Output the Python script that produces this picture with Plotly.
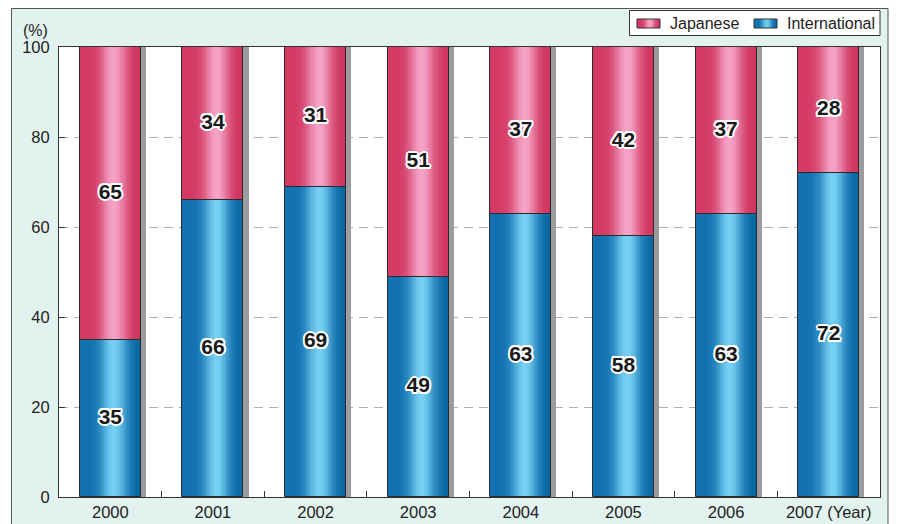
import math
import plotly.graph_objects as go

# ---- data -------------------------------------------------------------
years = ["2000", "2001", "2002", "2003", "2004", "2005", "2006", "2007"]
international = [35, 66, 69, 49, 63, 58, 63, 72]
japanese = [65, 34, 31, 51, 37, 42, 37, 28]
y_ticks = [0, 20, 40, 60, 80, 100]
x_ticktext = ["2000", "2001", "2002", "2003", "2004", "2005", "2006", "2007 (Year)"]

# ---- geometry / styling ---------------------------------------------
W, H = 899, 524
ML, MR, MT, MB = 59, 19, 47, 27
PW, PH = W - ML - MR, H - MT - MB
FONT = "Liberation Sans, Arial, Helvetica, sans-serif"
BAR_W = 0.595
N_STRIPS = 30
SHADOW_W = 0.05


def px(x):
    return (x - ML) / PW


def py(y):
    return (H - MB - y) / PH


def lerp(a, b, t):
    return tuple(a[k] + (b[k] - a[k]) * t for k in range(3))


def shade(t, edge_l, edge_r, light):
    f = math.exp(-((t - 0.56) / 0.21) ** 2)
    c = lerp(lerp(edge_l, edge_r, t), light, f)
    return "rgb(%d,%d,%d)" % tuple(round(v) for v in c)


BLUE = ((18, 114, 178), (6, 100, 162), (118, 208, 244))
PINK = ((212, 58, 100), (206, 50, 92), (245, 162, 198))

fig = go.Figure()

# drop shadow to the right of each column
totals = [a + b for a, b in zip(international, japanese)]
fig.add_trace(go.Bar(
    x=years, y=totals, width=SHADOW_W, offset=BAR_W / 2,
    marker=dict(color="#9c9ca0", line=dict(width=0)),
    showlegend=False, hoverinfo="skip"))

# cylinder-like shading: each column built from thin vertical strips
step = BAR_W / N_STRIPS
for series, base, colors in ((international, [0] * len(years), BLUE),
                             (japanese, international, PINK)):
    for i in range(N_STRIPS):
        off = -BAR_W / 2 + i * step
        wdt = min(step * 1.6, BAR_W / 2 - off)
        t = (i + 0.5) / N_STRIPS
        fig.add_trace(go.Bar(
            x=years, y=series, base=base, width=wdt, offset=off,
            marker=dict(color=shade(t, *colors), line=dict(width=0)),
            showlegend=False, hoverinfo="skip"))

# dark outlines of each segment
for series, base in ((international, [0] * len(years)), (japanese, international)):
    fig.add_trace(go.Bar(
        x=years, y=series, base=base, width=BAR_W, offset=-BAR_W / 2,
        marker=dict(color="rgba(0,0,0,0)", line=dict(color="#2a2a2a", width=1)),
        showlegend=False, hoverinfo="skip"))

# value labels in the middle of each segment
outline = ", ".join("%gpx %gpx 0 #fff" % (dx, dy) for dx, dy in
                    [(-2, 0), (2, 0), (0, -2), (0, 2), (-1.5, -1.5),
                     (1.5, -1.5), (-1.5, 1.5), (1.5, 1.5)])
mid_int = [v / 2 for v in international]
mid_jap = [b + v / 2 for b, v in zip(international, japanese)]
for mids, vals in ((mid_int, international), (mid_jap, japanese)):
    fig.add_trace(go.Scatter(
        x=years, y=mids, mode="text", text=[str(v) for v in vals],
        textposition="middle center",
        textfont=dict(family=FONT, size=21, color="#1a1a1a", weight="bold",
                      shadow=outline),
        showlegend=False, hoverinfo="skip"))

# ---- frame, plot background and legend --------------------------------
shapes = [
    dict(type="rect", xref="paper", yref="paper", layer="below",
         x0=px(11.5), x1=px(888), y0=py(530), y1=py(8.5),
         fillcolor="#e2f2ef", line=dict(color="#555", width=1)),
    dict(type="rect", xref="paper", yref="paper", layer="below",
         x0=0, x1=1, y0=0, y1=1, fillcolor="#ffffff", line=dict(width=0)),
    dict(type="rect", xref="paper", yref="paper", layer="above",
         x0=px(629.5), x1=px(880), y0=py(35.5), y1=py(10.5),
         fillcolor="#ffffff", line=dict(color="#333", width=1)),
]
annotations = []

legend_items = [("Japanese", PINK, 637, 668), ("International", BLUE, 754, 785)]
n_sw = 12
for label, colors, sx, tx in legend_items:
    sw_w = 23
    for i in range(n_sw):
        t = (i + 0.5) / n_sw
        shapes.append(dict(
            type="rect", xref="paper", yref="paper", layer="above",
            x0=px(sx + i * sw_w / n_sw), x1=px(sx + (i + 1.4) * sw_w / n_sw if i < n_sw - 1 else sx + sw_w),
            y0=py(28), y1=py(19), fillcolor=shade(t, *colors), line=dict(width=0)))
    shapes.append(dict(
        type="rect", xref="paper", yref="paper", layer="above",
        x0=px(sx), x1=px(sx + sw_w), y0=py(28), y1=py(19),
        fillcolor="rgba(0,0,0,0)", line=dict(color="#333", width=1)))
    annotations.append(dict(
        text=label, xref="paper", yref="paper", x=px(tx), y=py(23.5),
        xanchor="left", yanchor="middle", showarrow=False,
        font=dict(family=FONT, size=16, color="#222")))

annotations.append(dict(
    text="(%)", xref="paper", yref="paper", x=px(35.5), y=py(30),
    xanchor="center", yanchor="middle", showarrow=False,
    font=dict(family=FONT, size=16, color="#222")))

fig.update_layout(
    width=W, height=H,
    margin=dict(l=ML, r=MR, t=MT, b=MB, pad=0, autoexpand=False),
    paper_bgcolor="#ffffff", plot_bgcolor="#ffffff",
    barmode="overlay", bargap=0,
    font=dict(family=FONT, size=16, color="#222"),
    showlegend=False,
    shapes=shapes, annotations=annotations,
    xaxis=dict(
        type="category", range=[-0.5, len(years) - 0.5], automargin=False,
        tickmode="array", tickvals=years, ticktext=x_ticktext,
        ticks="inside", tickson="boundaries", ticklen=6,
        tickcolor="#333", tickwidth=1,
        showline=True, linecolor="#333", linewidth=1, mirror=True,
        showgrid=False, zeroline=False,
        tickfont=dict(family=FONT, size=16.5, color="#222"),
    ),
    yaxis=dict(
        range=[0, 100], tickmode="array", tickvals=y_ticks, automargin=False,
        ticks="inside", ticklen=6, tickcolor="#333", tickwidth=1,
        ticklabelstandoff=5,
        showline=True, linecolor="#333", linewidth=1, mirror=True,
        showgrid=True, gridcolor="#b0b0b0", gridwidth=1, griddash="9px,6px",
        zeroline=False,
        tickfont=dict(family=FONT, size=16.5, color="#222"),
    ),
)

fig.write_html("out.html")
